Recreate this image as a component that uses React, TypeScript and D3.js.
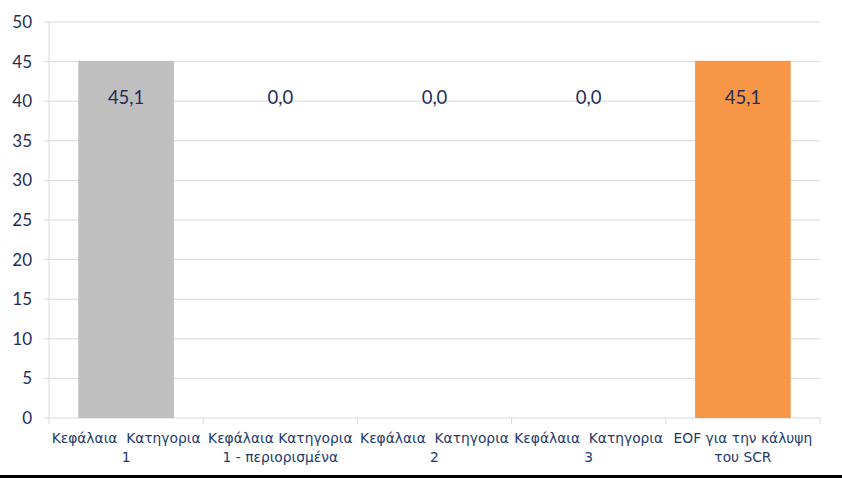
import React from "react";
import * as d3 from "d3";

const categories: string[][] = [
  ["Κεφάλαια  Κατηγορια", "1"],
  ["Κεφάλαια Κατηγορια", "1 - περιορισμένα"],
  ["Κεφάλαια  Κατηγορια", "2"],
  ["Κεφάλαια  Κατηγορια", "3"],
  ["EOF για την κάλυψη", "του SCR"],
];
const values: number[] = [45.1, 0.0, 0.0, 0.0, 45.1];
const barColors: string[] = ["#bfbfbf", "#bfbfbf", "#bfbfbf", "#bfbfbf", "#f79646"];
const yTicks: number[] = [0, 5, 10, 15, 20, 25, 30, 35, 40, 45, 50];

const W = 842;
const H = 478;
const margin = { left: 49, right: 22, top: 22, bottom: 60 };

export default function App() {
  const x = d3
    .scaleBand<number>()
    .domain(values.map((_, i) => i))
    .range([margin.left, W - margin.right])
    .paddingInner(0.38)
    .paddingOuter(0.19);
  const step = x.step();
  const y = d3.scaleLinear().domain([0, 50]).range([H - margin.bottom, margin.top]);
  const navy = "#1f2d5a";
  const catColor = "#243a6b";
  const labelY = y(d3.max(values) as number) + 43;
  const boundaries = d3
    .range(categories.length + 1)
    .map((i) => margin.left + i * ((W - margin.right - margin.left) / categories.length));

  return (
    <svg width={W} height={H} style={{ position: "absolute", left: 0, top: 0, background: "#fff" }}>
      {yTicks.map((t) => (
        <g key={t}>
          <line x1={margin.left - 5} x2={W - margin.right} y1={y(t)} y2={y(t)} stroke="#d9d9d9" strokeWidth={1} />
          <text x={32} y={y(t)} dy="0.35em" textAnchor="end" fontFamily="Lato, 'Open Sans', sans-serif" fontSize={17} fill={navy}>
            {t}
          </text>
        </g>
      ))}
      <line x1={margin.left} x2={margin.left} y1={margin.top} y2={y(0)} stroke="#d9d9d9" />
      {boundaries.map((b, i) => (
        <line key={i} x1={b} x2={b} y1={y(0)} y2={y(0) + 6} stroke="#d9d9d9" />
      ))}
      {values.map((v, i) => (
        <rect key={i} x={x(i)} y={y(v)} width={x.bandwidth()} height={y(0) - y(v)} fill={barColors[i]} />
      ))}
      {values.map((v, i) => (
        <text
          key={"l" + i}
          x={(x(i) as number) + x.bandwidth() / 2}
          y={labelY}
          textAnchor="middle"
          fontFamily="Lato, 'Open Sans', sans-serif"
          fontSize={18.5}
          fill={navy}
        >
          {v.toFixed(1).replace(".", ",")}
        </text>
      ))}
      {categories.map((lines, i) => (
        <text
          key={"c" + i}
          x={margin.left + step * i + step / 2}
          textAnchor="middle"
          fontFamily="'DejaVu Sans', sans-serif"
          fontSize={13.8}
          fill={catColor}
        >
          {lines.map((ln, j) => (
            <tspan key={j} x={margin.left + step * i + step / 2} y={y(0) + 25 + j * 19} style={{ whiteSpace: "pre" }}>
              {ln}
            </tspan>
          ))}
        </text>
      ))}
      <rect x={0} y={475} width={W} height={3} fill="#000" />
    </svg>
  );
}
